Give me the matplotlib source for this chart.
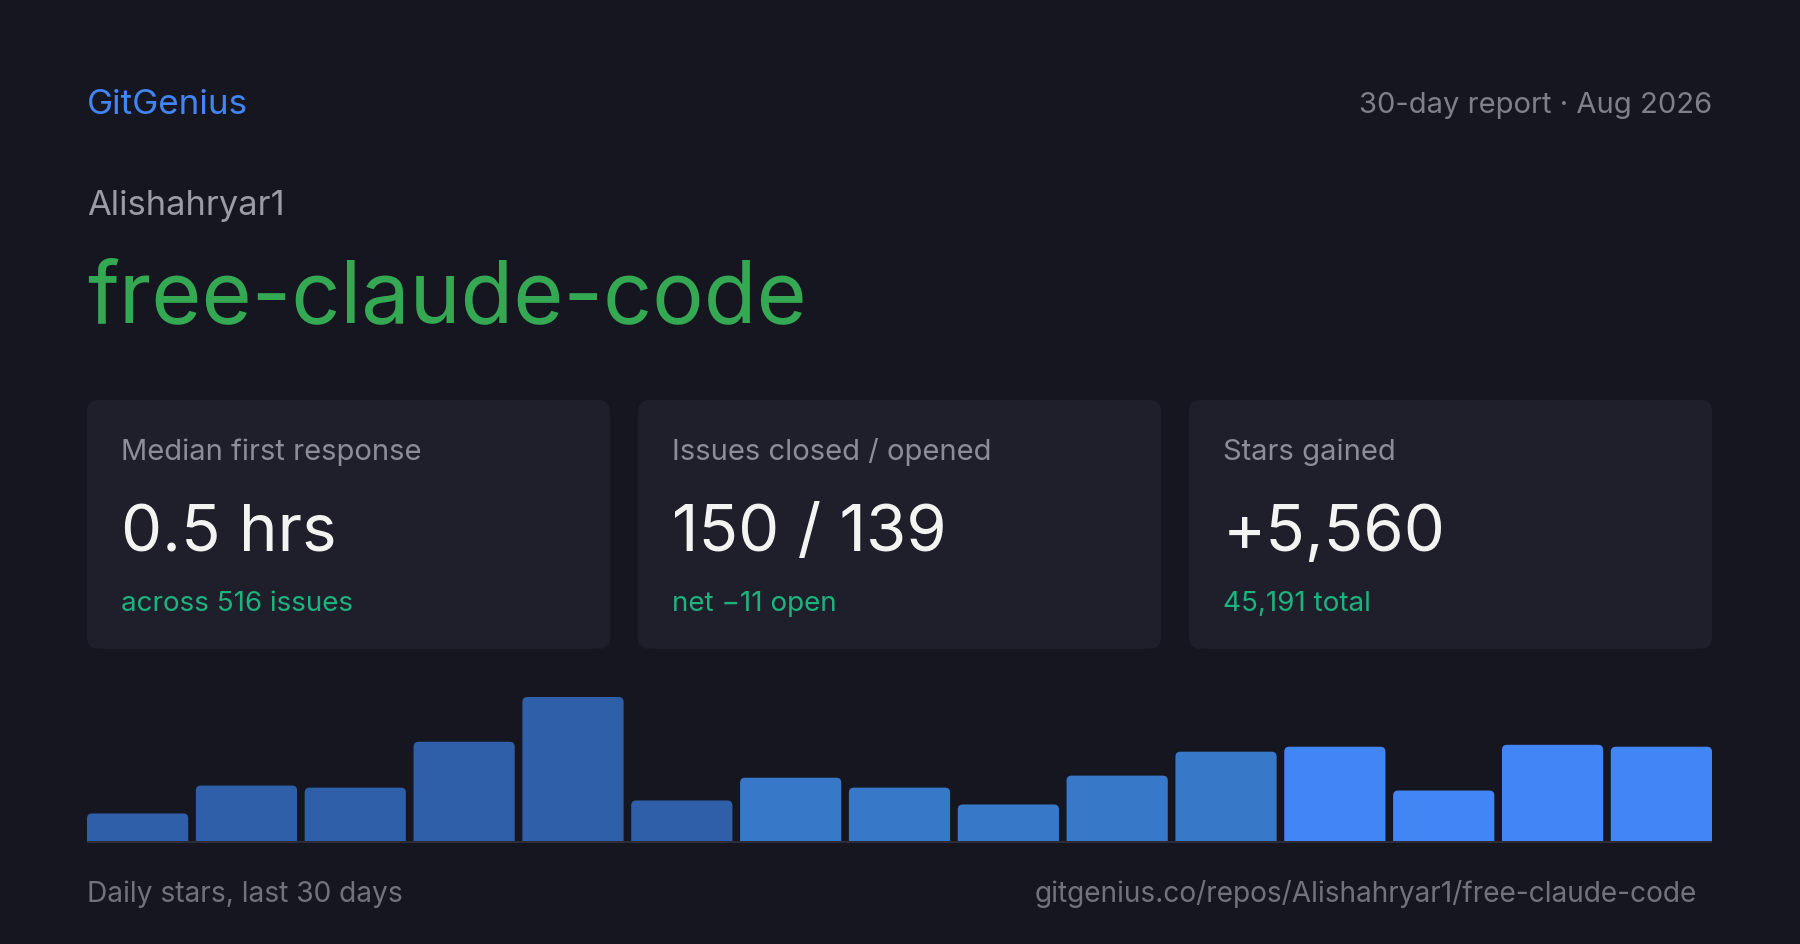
import numpy as np
import matplotlib
matplotlib.use("Agg")
import matplotlib.pyplot as plt
from matplotlib.patches import FancyBboxPatch

# daily stars (2-day buckets over the last 30 days)
stars = [144, 290, 279, 519, 753, 212, 331, 279, 191, 342, 467, 493, 264, 503, 493]
bar_colors = ["#2e5fa8"] * 6 + ["#3778c9"] * 5 + ["#4285f4"] * 4

card_labels = ["Median first response", "Issues closed / opened", "Stars gained"]
card_values = ["0.5 hrs", "150 / 139", "+5,560"]
card_notes = ["across 516 issues", "net \u221211 open", "45,191 total"]

BG = "#15161f"
CARD = "#1e1f2b"
W, H = 1800, 945

plt.rcParams["font.family"] = ["Inter", "DejaVu Sans"]

fig = plt.figure(figsize=(W / 100, H / 100), dpi=100, facecolor=BG)

# background axes in pixel units
bg = fig.add_axes([0, 0, 1, 1])
bg.set_xlim(0, W)
bg.set_ylim(H, 0)
bg.axis("off")

bg.text(87, 114, "GitGenius", color="#4285f4", fontsize=25.2, va="baseline")
bg.text(1712, 113, "30-day report \u00b7 Aug 2026", color="#7e7f8a", fontsize=21,
        va="baseline", ha="right")
bg.text(87, 215, "Alishahryar1", color="#9a9ba5", fontsize=24.8, va="baseline")
bg.text(87, 322, "free-claude-code", color="#34a853", fontsize=62, va="baseline")

card_w, card_gap = 523, 28
for i in range(3):
    x0 = 87 + i * (card_w + card_gap)
    bg.add_patch(FancyBboxPatch((x0, 401), card_w, 249,
                                boxstyle="round,pad=0,rounding_size=12",
                                fc=CARD, ec="none"))
    bg.text(x0 + 34, 460, card_labels[i], color="#8c8d98", fontsize=21, va="baseline")
    bg.text(x0 + 34, 551, card_values[i], color="#f3f3f1", fontsize=47, va="baseline")
    bg.text(x0 + 34, 611, card_notes[i], color="#1db37e", fontsize=20, va="baseline")

bg.text(87, 902, "Daily stars, last 30 days", color="#71727d", fontsize=20.3, va="baseline")
bg.text(1697, 902, "gitgenius.co/repos/Alishahryar1/free-claude-code", color="#71727d",
        fontsize=20.2, va="baseline", ha="right")

# bar chart
top, base, line_px = 698, 842, 2
ymax = max(stars)
per_px = ymax / (base - top)
ax = fig.add_axes([87 / W, (H - base - line_px) / H, 1625 / W, (base - top + line_px) / H])
ax.set_facecolor("none")
x = np.arange(len(stars))
bw = 0.93
bars = ax.bar(x, stars, width=bw, color=bar_colors)
ax.set_xlim(-bw / 2, len(stars) - 1 + bw / 2)
ax.set_ylim(-line_px * per_px, ymax)

x_per_px = (len(stars) - 1 + bw) / 1625
for rect, c in zip(bars, bar_colors):
    rect.set_visible(False)
    r_px = 5
    ax.add_patch(FancyBboxPatch((rect.get_x(), -30 * per_px), rect.get_width(),
                                rect.get_height() + 30 * per_px,
                                boxstyle="round,pad=0,rounding_size=%f" % (r_px * x_per_px),
                                mutation_aspect=per_px / x_per_px,
                                fc=c, ec="none"))
ax.axhspan(-line_px * per_px, 0, color="#2b2c38", zorder=5, lw=0)
ax.axis("off")

fig.savefig("out.png", dpi=100, facecolor=BG)
